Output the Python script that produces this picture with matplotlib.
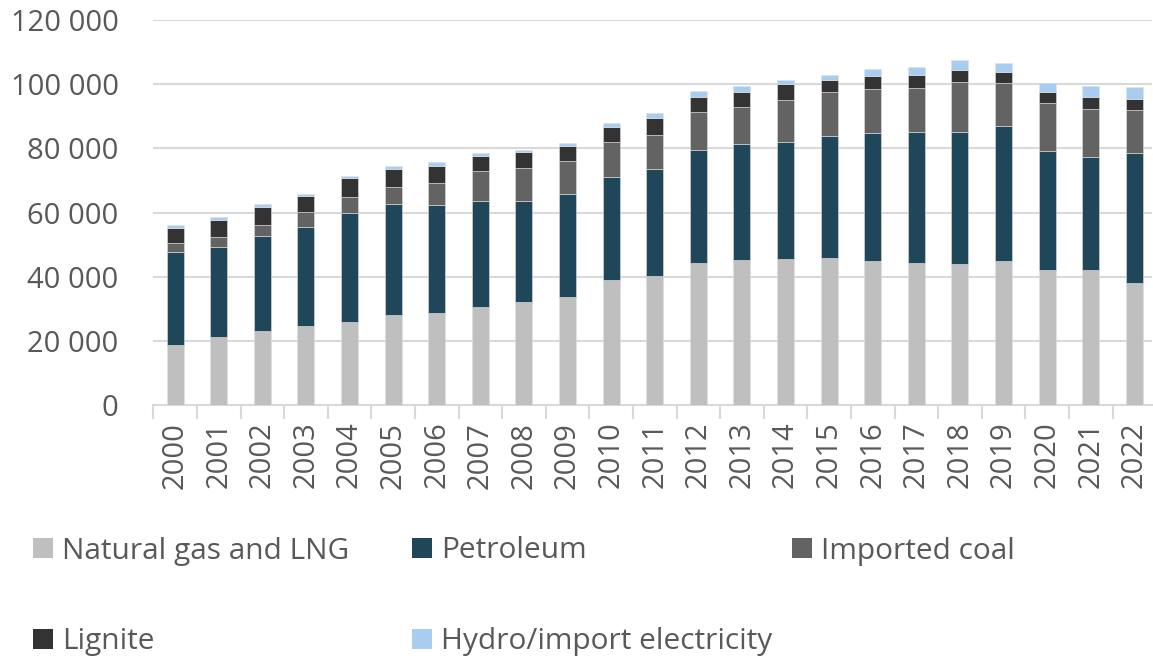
import matplotlib
matplotlib.use("Agg")
import matplotlib.pyplot as plt
import numpy as np
from matplotlib.patches import Rectangle

years = [str(y) for y in range(2000, 2023)]
natural_gas = [18800, 21300, 23100, 24600, 25900, 28100, 28800, 30500, 32200, 33800, 38900, 40200,
               44300, 45200, 45600, 45700, 45000, 44400, 43900, 44900, 42100, 42200, 38100]
petroleum = [29000, 27800, 29500, 31000, 34100, 34400, 33500, 33200, 31500, 32100, 32300, 33500,
             35300, 36300, 36500, 38000, 39700, 40600, 41300, 42000, 37200, 35100, 40400]
imported_coal = [2800, 3200, 3600, 4600, 4800, 5500, 7000, 9300, 10200, 10200, 10800, 10400,
                 11800, 11400, 13100, 13900, 13800, 13900, 15500, 13500, 14900, 15100, 13500]
lignite = [4700, 5500, 5500, 4800, 5800, 5700, 5200, 4600, 4900, 4700, 4800, 5300,
           4700, 4800, 4700, 3800, 4100, 4100, 3700, 3500, 3300, 3500, 3400]
hydro_import = [900, 900, 900, 900, 800, 900, 1200, 1000, 800, 900, 1000, 1600,
                1800, 1600, 1500, 1600, 2100, 2500, 3000, 2800, 3000, 3400, 3700]

series_names = ["Natural gas and LNG", "Petroleum", "Imported coal", "Lignite", "Hydro/import electricity"]
series_values = [natural_gas, petroleum, imported_coal, lignite, hydro_import]
colors = ["#BFBFBF", "#1F4659", "#636363", "#333333", "#A9CDF0"]
yticks = [0, 20000, 40000, 60000, 80000, 100000, 120000]

plt.rcParams['font.family'] = ['Open Sans', 'DejaVu Sans']
text_color = "#595959"
grid_color = "#D9D9D9"

fig = plt.figure(figsize=(11.53, 6.57), dpi=100)
ax = fig.add_axes([153.3 / 1153, 1 - 405 / 657, (22.9 * 43.6) / 1153, 385 / 657])

x = np.arange(len(years))
bottom = np.zeros(len(years))
for name, vals, c in zip(series_names, series_values, colors):
    v = np.array(vals, dtype=float)
    ax.bar(x, v, bottom=bottom, width=0.39, color=c, edgecolor="#E0E0E0", linewidth=0.4,
           zorder=3, label=name)
    bottom += v

ax.set_xlim(-0.5, 22.4)
ax.set_ylim(0, 120000)
ax.set_yticks(yticks)
ax.set_yticklabels([f"{t:,}".replace(",", " ") for t in yticks])
ax.yaxis.grid(True, color=grid_color, linewidth=1.5, zorder=0)
ax.set_axisbelow(True)
for s in ["top", "right", "left"]:
    ax.spines[s].set_visible(False)
ax.spines["bottom"].set_color(grid_color)
ax.spines["bottom"].set_linewidth(1.5)
ax.tick_params(axis="y", length=0, pad=25, labelsize=21, labelcolor=text_color)

ax.set_xticks(x)
ax.set_xticklabels(years, rotation=90)
ax.set_xticks(np.arange(-0.5, 22.0, 1.0), minor=True)
ax.tick_params(axis="x", which="major", length=0, pad=12, labelsize=21, labelcolor=text_color)
ax.tick_params(axis="x", which="minor", length=10, width=1.5, color=grid_color, direction="out")

# legend drawn in figure pixel coordinates (Excel-style fixed columns)
W, H = 1153, 657
col_x = [33, 412, 792]
row_y = [548, 639]
for i, (name, c) in enumerate(zip(series_names, colors)):
    r, col = divmod(i, 3)
    mx, my = col_x[col], row_y[r]
    fig.patches.append(Rectangle((mx / W, 1 - (my + 10) / H), 20 / W, 20 / H,
                                 transform=fig.transFigure, facecolor=c, edgecolor="none"))
    fig.text((mx + 29) / W, 1 - (my + 3) / H, name, fontsize=21.5, color=text_color,
             ha="left", va="center")

fig.savefig("out.png", dpi=100)
